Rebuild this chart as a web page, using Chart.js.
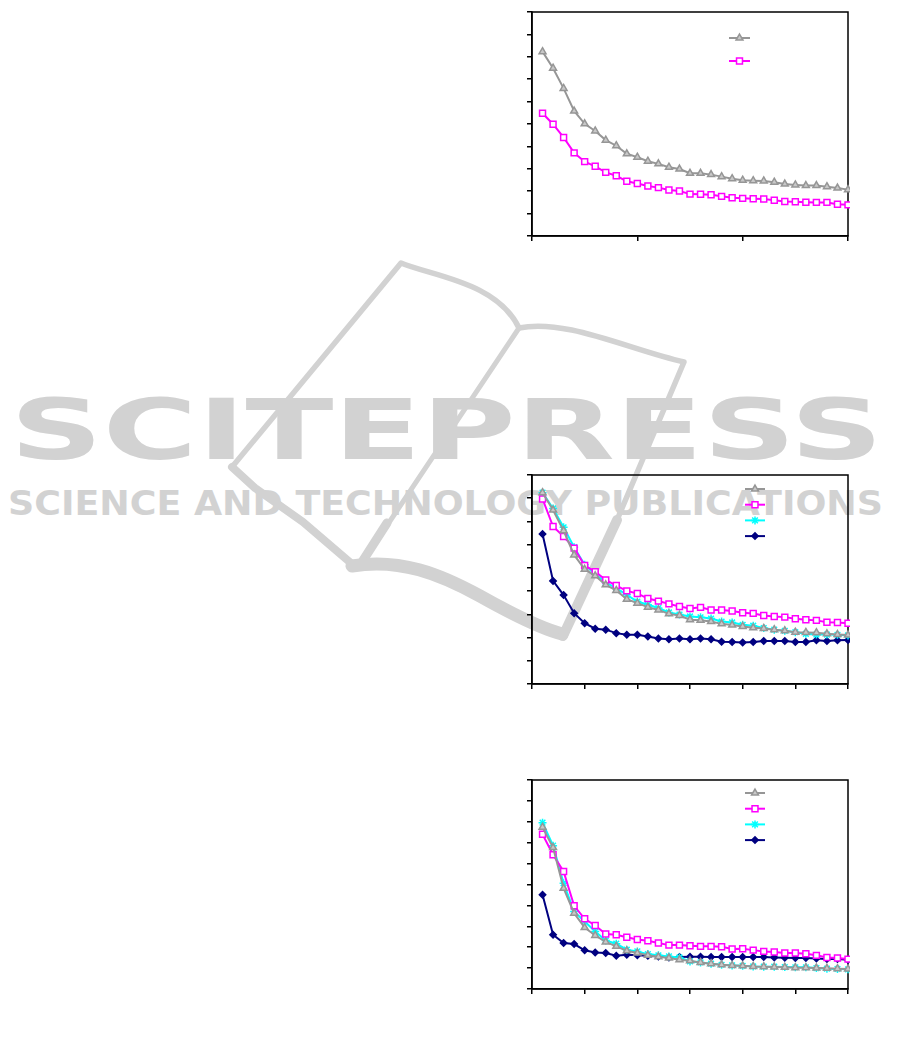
<!DOCTYPE html>
<html>
<head>
<meta charset="utf-8">
<script src="https://cdn.jsdelivr.net/npm/chart.js@4.4.1/dist/chart.umd.min.js"></script>
<style>
  html, body { margin: 0; padding: 0; background: #fff; }
  body { width: 901px; height: 1043px; position: relative; overflow: hidden; }
  #mark { position: absolute; left: 0; top: 0; z-index: 0; }
  .box { position: absolute; z-index: 1; }
</style>
</head>
<body>
<svg id="mark" width="901" height="1043">
  <g fill="none" stroke="#d2d2d2" stroke-linejoin="round" stroke-linecap="round">
    <path d="M 232 467 L 401 263 C 432 276, 497 282, 519 328 C 565 318, 630 350, 684 362 L 617 520" stroke-width="5.5"/>
    <path d="M 519 328 L 372 548" stroke-width="5"/>
    <path d="M 387 523 L 362 562" stroke-width="9"/>
    <path d="M 232 467 L 255 488 L 303 522 L 352 564" stroke-width="8"/>
    <path d="M 352 566 C 400 558, 440 574, 480 596 C 512 614, 540 628, 562 634" stroke-width="13"/>
    <path d="M 617 520 L 563 636" stroke-width="10"/>
  </g>
  <g fill="#d2d2d2" font-family="DejaVu Sans" font-weight="bold">
    <text x="10" y="459" font-size="84" textLength="873" lengthAdjust="spacingAndGlyphs">SCITEPRESS</text>
    <text x="8" y="515" font-size="34" textLength="875" lengthAdjust="spacingAndGlyphs">SCIENCE AND TECHNOLOGY PUBLICATIONS</text>
  </g>
</svg>

<div class="box" style="left:526px; top:10px; width:324px; height:232px;"><canvas id="c1"></canvas></div>
<div class="box" style="left:526px; top:473px; width:324px; height:217px;"><canvas id="c2"></canvas></div>
<div class="box" style="left:526px; top:778px; width:324px; height:217px;"><canvas id="c3"></canvas></div>

<script>
// x positions (1..30)
const steps = [1,2,3,4,5,6,7,8,9,10,11,12,13,14,15,16,17,18,19,20,21,22,23,24,25,26,27,28,29,30];

// chart 1
const c1Gray = [8.23,7.49,6.59,5.58,5.01,4.69,4.28,4.03,3.67,3.52,3.34,3.22,3.07,2.99,2.80,2.80,2.74,2.65,2.56,2.49,2.47,2.46,2.40,2.32,2.28,2.25,2.25,2.20,2.14,2.07];
const c1Magenta = [5.48,4.99,4.40,3.71,3.32,3.11,2.84,2.69,2.44,2.34,2.23,2.16,2.05,2.01,1.87,1.86,1.84,1.77,1.71,1.68,1.66,1.65,1.60,1.54,1.53,1.51,1.50,1.50,1.42,1.39];

// chart 2
const c2Gray = [8.24,7.49,6.60,5.56,4.94,4.66,4.27,4.03,3.65,3.48,3.31,3.19,3.02,2.95,2.77,2.74,2.69,2.59,2.54,2.48,2.42,2.39,2.34,2.29,2.23,2.22,2.21,2.16,2.13,2.11];
const c2Magenta = [7.97,6.78,6.35,5.85,5.10,4.84,4.48,4.24,4.01,3.90,3.68,3.57,3.45,3.34,3.25,3.30,3.19,3.19,3.14,3.07,3.04,2.95,2.91,2.88,2.81,2.77,2.74,2.66,2.65,2.62];
const c2Cyan = [8.24,7.56,6.75,5.89,5.13,4.74,4.37,4.13,3.84,3.55,3.41,3.27,3.08,2.99,2.91,2.87,2.82,2.69,2.65,2.55,2.51,2.41,2.34,2.29,2.23,2.16,2.13,2.13,2.12,2.09];
const c2Navy = [6.46,4.44,3.83,3.05,2.62,2.38,2.34,2.19,2.12,2.12,2.05,1.96,1.93,1.96,1.93,1.96,1.93,1.82,1.81,1.79,1.81,1.85,1.85,1.85,1.81,1.81,1.88,1.85,1.88,1.89];

// chart 3
const c3Gray = [7.74,6.77,4.82,3.63,2.94,2.56,2.25,2.04,1.83,1.72,1.61,1.54,1.48,1.40,1.35,1.27,1.21,1.16,1.13,1.11,1.08,1.07,1.05,1.04,1.02,1.02,1.00,0.99,0.97,0.96];
const c3Magenta = [7.40,6.42,5.62,3.98,3.36,3.04,2.63,2.60,2.48,2.37,2.31,2.20,2.10,2.10,2.07,2.04,2.04,2.02,1.91,1.93,1.86,1.80,1.77,1.72,1.72,1.69,1.61,1.51,1.48,1.43];
const c3Cyan = [7.96,6.86,5.06,3.71,3.23,2.75,2.32,2.17,1.88,1.80,1.67,1.61,1.56,1.51,1.32,1.27,1.21,1.16,1.13,1.11,1.08,1.07,1.07,1.05,1.04,1.04,1.00,0.97,0.96,0.94];
const c3Navy = [4.51,2.60,2.20,2.15,1.85,1.75,1.72,1.59,1.64,1.62,1.59,1.56,1.51,1.53,1.54,1.54,1.53,1.53,1.53,1.53,1.53,1.53,1.51,1.50,1.48,1.48,1.46,1.43,1.43,1.40];

// series styles
const styles = {
  gray:    { borderColor: '#969696', backgroundColor: '#c8c8c8', pointStyle: 'triangle', pointRadius: 4 },
  magenta: { borderColor: '#ff00ff', backgroundColor: '#ffffff', pointStyle: 'rect', pointRadius: 4.2 },
  cyan:    { borderColor: '#00ffff', backgroundColor: '#00ffff', pointStyle: 'star', pointRadius: 4 },
  navy:    { borderColor: '#000080', backgroundColor: '#000080', pointStyle: 'rectRot', pointRadius: 3.2 }
};

function makeSet(label, values, style) {
  const s = styles[style];
  return {
    label: label,
    data: values.map((v, i) => ({ x: steps[i], y: v })),
    borderColor: s.borderColor,
    backgroundColor: s.backgroundColor,
    pointBackgroundColor: s.backgroundColor,
    pointBorderColor: s.borderColor,
    pointStyle: s.pointStyle,
    pointRadius: s.pointRadius,
    pointBorderWidth: 1.5,
    borderWidth: 2,
    tension: 0,
    clip: false
  };
}

// box around the plot
const frame = {
  id: 'frame',
  beforeDatasetsDraw(chart) {
    const a = chart.chartArea, ctx = chart.ctx;
    ctx.save();
    ctx.strokeStyle = '#000';
    ctx.lineWidth = 1.5;
    ctx.strokeRect(a.left, a.top, a.right - a.left, a.bottom - a.top);
    ctx.restore();
  }
};

// line + marker legend samples inside the plot, no text
const sampleLegend = {
  id: 'sampleLegend',
  afterDraw(chart, args, opts) {
    const a = chart.chartArea, ctx = chart.ctx;
    chart.data.datasets.forEach((ds, i) => {
      const x1 = a.left + opts.x, x2 = x1 + opts.len;
      const y = a.top + opts.y0 + i * opts.gap;
      ctx.save();
      ctx.strokeStyle = ds.borderColor;
      ctx.lineWidth = 2;
      ctx.beginPath();
      ctx.moveTo(x1, y);
      ctx.lineTo(x2, y);
      ctx.stroke();
      ctx.fillStyle = ds.pointBackgroundColor;
      ctx.strokeStyle = ds.pointBorderColor;
      ctx.lineWidth = 1.5;
      Chart.helpers.drawPoint(ctx, { pointStyle: ds.pointStyle, radius: ds.pointRadius, rotation: 0, borderWidth: 1.5 }, (x1 + x2) / 2, y);
      ctx.restore();
    });
  }
};

function axisOpts(min, max, step, fixed) {
  return {
    type: 'linear',
    min: min, max: max,
    ticks: { display: false, stepSize: step },
    grid: { display: true, drawOnChartArea: false, drawTicks: true, tickLength: 5, color: '#000', lineWidth: 1.5 },
    border: { display: true, color: '#000', width: 1.5 },
    afterFit: fixed
  };
}

function build(id, sets, yMax, xStep, legend) {
  new Chart(document.getElementById(id), {
    type: 'line',
    data: { datasets: sets },
    options: {
      responsive: true,
      maintainAspectRatio: false,
      animation: false,
      layout: { autoPadding: false, padding: { top: 2, right: 2, left: 0, bottom: 0 } },
      plugins: { legend: { display: false }, tooltip: { enabled: false }, sampleLegend: legend },
      scales: {
        x: axisOpts(0, 30, xStep, s => { s.height = 6; }),
        y: axisOpts(0, yMax, 1, s => { s.width = 6; })
      }
    },
    plugins: [frame, sampleLegend]
  });
}

build('c1', [
  makeSet('Series A', c1Gray, 'gray'),
  makeSet('Series B', c1Magenta, 'magenta')
], 10, 10, { x: 197, len: 21, y0: 26, gap: 23 });

build('c2', [
  makeSet('Series A', c2Gray, 'gray'),
  makeSet('Series B', c2Magenta, 'magenta'),
  makeSet('Series C', c2Cyan, 'cyan'),
  makeSet('Series D', c2Navy, 'navy')
], 9, 5, { x: 213, len: 20, y0: 14, gap: 15.7 });

build('c3', [
  makeSet('Series A', c3Gray, 'gray'),
  makeSet('Series B', c3Magenta, 'magenta'),
  makeSet('Series C', c3Cyan, 'cyan'),
  makeSet('Series D', c3Navy, 'navy')
], 10, 5, { x: 213, len: 20, y0: 13, gap: 15.7 });
</script>
</body>
</html>
